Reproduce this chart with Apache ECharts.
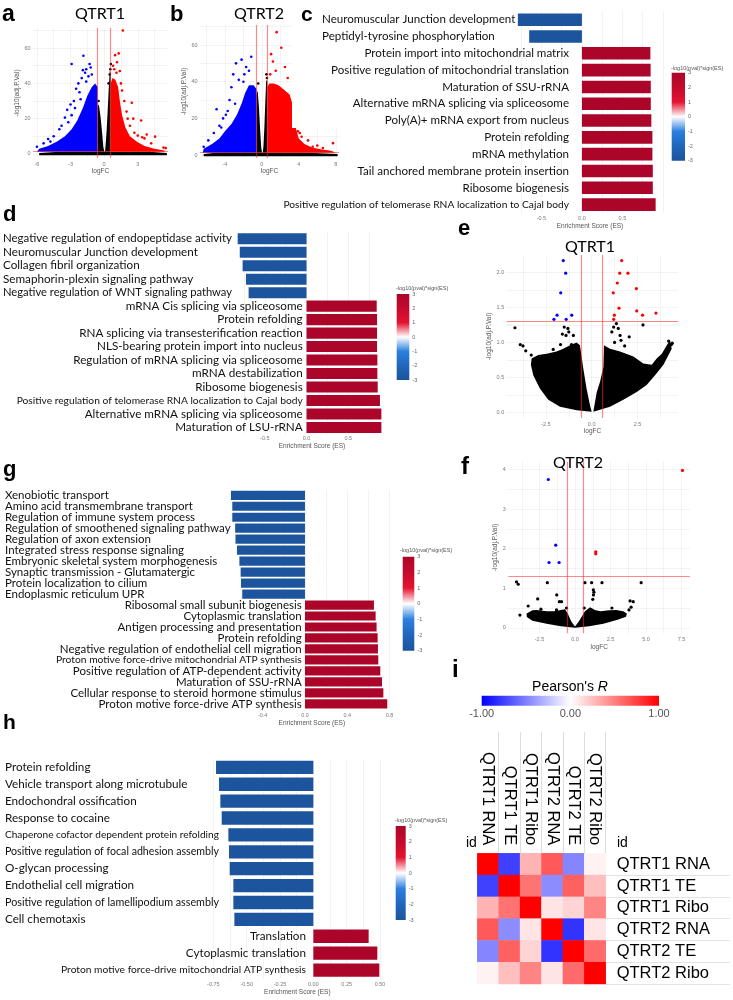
<!DOCTYPE html>
<html><head><meta charset="utf-8">
<script src="https://cdn.jsdelivr.net/npm/echarts@6/dist/echarts.min.js"></script>
<style>html,body{margin:0;padding:0;background:#fff}#c{width:733px;height:1000px}</style>
</head><body><div id="c"></div>
<script>
// ================= DATA =================
// Panel c – GSEA (QTRT1)
const cTerms = ["Neuromuscular Junction development","Peptidyl-tyrosine phosphorylation","Protein import into mitochondrial matrix","Positive regulation of mitochondrial translation","Maturation of SSU-rRNA","Alternative mRNA splicing via spliceosome","Poly(A)+ mRNA export from nucleus","Protein refolding","mRNA methylation","Tail anchored membrane protein insertion","Ribosome biogenesis","Positive regulation of telomerase RNA localization to Cajal body"];
const cES = [-0.79,-0.65,0.845,0.848,0.85,0.85,0.857,0.87,0.87,0.875,0.875,0.91];
const cScore = [-3,-3,3,3,3,3,3,3,3,3,3,3];
// Panel d
const dTerms = ["Negative regulation of endopeptidase activity","Neuromuscular Junction development","Collagen fibril organization","Semaphorin-plexin signaling pathway","Negative regulation of WNT signaling pathway","mRNA Cis splicing via spliceosome","Protein refolding","RNA splicing via transesterification reaction","NLS-bearing protein import into nucleus","Regulation of mRNA splicing via spliceosome","mRNA destabilization","Ribosome biogenesis","Positive regulation of telomerase RNA localization to Cajal body","Alternative mRNA splicing via spliceosome","Maturation of LSU-rRNA"];
const dES = [-0.825,-0.80,-0.766,-0.726,-0.694,0.841,0.845,0.845,0.845,0.849,0.849,0.853,0.88,0.897,0.897];
const dScore = [-3,-3,-3,-3,-3,3,3,3,3,3,3,3,3,3,3];
// Panel g
const gTerms = ["Xenobiotic transport","Amino acid transmembrane transport","Regulation of immune system process","Regulation of smoothened signaling pathway","Regulation of axon extension","Integrated stress response signaling","Embryonic skeletal system morphogenesis","Synaptic transmission - Glutamatergic","Protein localization to cilium","Endoplasmic reticulum UPR","Ribosomal small subunit biogenesis","Cytoplasmic translation","Antigen processing and presentation","Protein refolding","Negative regulation of endothelial cell migration","Proton motive force-drive mitochondrial ATP synthesis","Positive regulation of ATP-dependent activity","Maturation of SSU-rRNA","Cellular response to steroid hormone stimulus","Proton motive force-drive ATP synthesis"];
const gES = [-0.70,-0.687,-0.687,-0.66,-0.657,-0.643,-0.62,-0.608,-0.605,-0.593,0.652,0.668,0.677,0.687,0.69,0.693,0.712,0.728,0.741,0.778];
const gScore = [-3,-3,-3,-3,-3,-3,-3,-3,-3,-3,3,3,3,3,3,3,3,3,3,3];
// Panel h
const hTerms = ["Protein refolding","Vehicle transport along microtubule","Endochondral ossification","Response to cocaine","Chaperone cofactor dependent protein refolding","Positive regulation of focal adhesion assembly","O-glycan processing","Endothelial cell migration","Positive regulation of lamellipodium assembly","Cell chemotaxis","Translation","Cytoplasmic translation","Proton motive force-drive mitochondrial ATP synthesis"];
const hES = [-0.73,-0.7075,-0.6975,-0.6875,-0.6375,-0.6325,-0.6275,-0.60,-0.60,-0.5925,0.415,0.48,0.495];
const hScore = [-3,-3,-3,-3,-3,-3,-3,-3,-3,-3,3,3,3];
const cbTicksES = [-3,-2,-1,0,1,2,3];

// Thresholds used in volcano plots
const FC_CUT = 0.585, P_CUT = 1.301;

// Panel a – volcano QTRT1 (dense clouds as outlines, sparse points listed)
const aBand = [[-5.8,-0.8],[5.6,-0.8],[5.6,0.6],[4,1.3],[-4,1.3],[-5.8,0.6]];
const aBlackL = [[-0.585,1.3],[-0.585,27],[-0.47,28],[-0.32,21],[-0.18,12],[-0.07,4],[0.02,1.3]];
const aBlackR = [[0.08,1.3],[0.585,1.3],[0.585,46],[0.5,47],[0.42,38],[0.32,25],[0.22,13],[0.13,5]];
const aBlueCloud = [[-0.585,1.3],[-0.585,38],[-0.8,40],[-1.1,38],[-1.5,33],[-1.9,26],[-2.4,19],[-2.9,14],[-3.5,10],[-4.2,7],[-5,4.5],[-5.8,3],[-6.0,1.3]];
const aRedCloud = [[0.585,1.3],[0.585,40],[0.75,43],[1.0,42],[1.25,38],[1.4,30],[1.6,22],[1.9,15],[2.3,10],[2.9,7],[3.6,4.5],[4.5,3],[5.4,2],[5.4,1.3]];
const aBluePts = [[-1.85,55.7],[-2.9,51],[-1.3,51],[-1.7,46],[-2.0,43],[-3.0,28],[-3.5,20.6],[-5.0,8.5],[-6.0,4.1],[-5.4,6],[-2.5,37],[-2.2,35],[-1.6,48],[-1.1,45],[-2.3,40],[-3.3,25],[-4.0,14],[-4.5,10],[-2.7,30],[-1.4,44],[-1.9,47.5],[-1.2,49],[-2.1,31],[-1.6,41],[-2.9,22],[-3.8,16],[-4.8,7],[-3.2,18],[-2.6,26]];
const aRedPts = [[1.67,70],[1.3,57],[0.98,56],[1.15,52],[0.9,48],[1.4,47],[2.47,29],[3.3,19],[3.8,11],[4.55,9.8],[2.3,16],[3.0,10.4],[3.4,9.5],[3.6,8.8],[5.3,3.6],[5.5,3.3],[2.0,24],[1.8,30],[2.6,20],[4.2,6],[1.1,46],[0.8,50],[1.6,36],[2.1,20],[2.7,12],[1.5,40]];
const aBlackPts = [[0.6,51],[0.5,45],[-0.5,30],[0.4,40],[0.55,48]];

// Panel b – volcano QTRT2
const bBand = [[-6.3,-0.6],[8.2,-0.6],[8.2,0.6],[5,1.3],[-5,1.3],[-6.3,0.6]];
const bBlackL = [[-0.585,1.3],[-0.585,33],[-0.45,35],[-0.32,26],[-0.18,13],[-0.07,4],[0.02,1.3]];
const bBlackR = [[0.1,1.3],[0.585,1.3],[0.585,40],[0.47,41],[0.38,30],[0.27,15],[0.17,5]];
const bBlueCloud = [[-0.585,1.3],[-0.585,36],[-0.9,38],[-1.4,38],[-1.8,34],[-2.2,28],[-2.7,22],[-3.3,17],[-4.0,13],[-4.6,9],[-5.4,6],[-6.3,3.5],[-6.4,1.3]];
const bRedCloud = [[0.585,1.3],[0.585,37],[0.8,39],[1.3,39],[1.8,38],[2.3,36],[3.0,33],[3.3,28],[3.6,16],[4.0,9],[4.6,6],[5.5,4],[6.5,3],[7.5,2.3],[8.0,1.3]];
const bBluePts = [[-1.15,53.6],[-2.2,52],[-2.8,50],[-3.1,44],[-4.9,25],[-3.9,22],[-6.3,4.5],[-1.7,48],[-1.4,46],[-2.5,41],[-3.5,30],[-4.2,20],[-5.2,12],[-4.6,16],[-1.9,44],[-3.3,37],[-2.0,40],[-5.8,8],[-2.9,28],[-3.7,24],[-4.4,15]];
const bRedPts = [[1.6,67],[2.1,58.5],[1.2,51],[1.5,46],[0.9,44],[2.5,48],[1.0,55],[2.8,42],[6.6,3.8],[7.7,6.5],[4.3,10],[5.0,8],[5.5,4.5],[4.1,12],[6.0,5.2],[3.9,13]];
const bBlackPts = [[0.55,42],[-0.4,39],[0.5,44]];

// Panel e – volcano QTRT1 (second dataset)
const eBlackL = [[0,0.01],[-0.82,0.03],[-1.73,0.08],[-2.37,0.18],[-2.83,0.34],[-3.19,0.53],[-3.32,0.68],[-3.28,0.77],[-2.92,0.82],[-2.46,0.84],[-1.92,0.87],[-1.55,0.91],[-1.18,0.96],[-0.82,1.0],[-0.64,0.96],[-0.46,0.63],[-0.28,0.34],[-0.09,0.1]];
const eBlackR = [[0.09,0.01],[0.27,0.28],[0.46,0.44],[0.64,0.65],[0.67,0.96],[1.0,0.91],[1.55,0.87],[2.28,0.80],[2.82,0.70],[3.28,0.68],[3.55,0.77],[3.83,0.84],[4.1,0.96],[4.28,1.03],[4.37,0.91],[3.92,0.68],[3.46,0.53],[3.0,0.39],[2.46,0.29],[1.73,0.18],[1.0,0.08]];
const eBlackPts = [[-4.19,1.21],[-3.9,0.97],[-3.75,0.95],[-3.6,0.88],[-1.5,1.22],[-1.3,1.2],[-1.25,1.15],[-1.0,1.1],[-1.4,1.1],[-1.6,1.12],[-1.1,0.97],[-1.7,0.97],[1.2,1.22],[1.35,1.27],[1.45,1.2],[1.55,1.1],[2.05,1.08],[2.8,1.25],[1.25,1.0],[4.2,1.02],[4.35,0.97],[4.4,0.99],[1.1,1.15],[1.6,1.03],[-2.1,0.9],[-3.3,0.82],[1.8,0.95]];
const eBluePts = [[-1.55,2.17],[-1.42,1.99],[-1.69,1.71],[-1.89,1.39],[-2.06,1.33],[-1.39,1.33],[-1.09,1.39]];
const eRedPts = [[1.64,2.17],[1.53,1.99],[1.98,1.99],[1.40,1.85],[2.44,1.77],[1.18,1.71],[1.49,1.49],[2.46,1.45],[1.24,1.39],[2.78,1.39],[3.51,1.42],[1.2,1.33]];

// Panel f – volcano QTRT2 (second dataset)
const fBlack = [[-3.41,0.36],[-3.0,0.44],[-2.7,0.45],[-2.0,0.42],[-1.5,0.42],[-1.0,0.45],[-0.7,0.47],[-0.5,0.35],[-0.25,0.15],[0,0.03],[0.25,0.15],[0.5,0.3],[0.7,0.42],[1.06,0.52],[1.4,0.45],[1.8,0.42],[2.4,0.44],[2.9,0.45],[3.4,0.42],[3.65,0.36],[3.6,0.28],[3.0,0.2],[2.0,0.1],[1.0,0.04],[0,0],[-1.0,0.04],[-2.0,0.1],[-3.0,0.18],[-3.4,0.27]];
const fBlackPts = [[-4.12,1.16],[-4.0,1.1],[-1.95,1.14],[0.7,1.14],[1.17,1.14],[1.9,1.14],[4.66,1.14],[-1.29,0.83],[-1.1,0.66],[-0.95,0.66],[-2.63,0.73],[-3.88,0.32],[-3.3,0.55],[-2.4,0.47],[4.1,0.66],[3.88,0.68],[3.95,0.52],[3.8,0.45],[1.29,0.96],[1.33,0.9],[1.3,0.83],[1.25,0.72],[-1.3,0.45],[2.6,0.5],[-0.6,0.5],[0.65,0.5]];
const fBluePts = [[-1.88,3.75],[-1.36,2.09],[-1.83,1.65],[-1.12,1.65]];
const fRedPts = [[7.57,3.98],[1.46,1.92],[1.46,1.87]];

// Panel i – Pearson correlation heatmap
const hmIds = ["QTRT1 RNA","QTRT1 TE","QTRT1 Ribo","QTRT2 RNA","QTRT2 TE","QTRT2 Ribo"];
const hmR = [
  [1.00,-0.75,0.30,0.65,-0.48,0.05],
  [-0.75,1.00,0.55,-0.45,0.62,0.25],
  [0.30,0.55,1.00,0.10,0.17,0.48],
  [0.65,-0.45,0.10,1.00,-0.80,0.10],
  [-0.48,0.62,0.17,-0.80,1.00,0.58],
  [0.05,0.25,0.48,0.10,0.58,1.00]
];
const pearsonTicks = [-1,0,1];

// ================= BUILD =================
const SANS = 'Lato';
const ARIAL = '"Liberation Sans", Arial, sans-serif';
const BAR_COLORS = ['#1c549d','#2066bb','#2b80e0','#ffffff','#e4132f','#c40a2d','#ab0629'];
const HM_COLORS = ['#0000ff','#ffffff','#ff0000'];
const opt = {animation:false, backgroundColor:'#ffffff', grid:[], xAxis:[], yAxis:[], series:[], visualMap:[], graphic:{elements:[]}};
const barSeriesIdx = [];
const mctx = document.createElement('canvas').getContext('2d');
function textW(t, size){ mctx.font = size + 'px ' + SANS; return mctx.measureText(t).width; }

function addCart(rect, xa, ya){
  const gi = opt.grid.length; opt.grid.push(Object.assign({containLabel:false}, rect));
  const xi = opt.xAxis.length; opt.xAxis.push(Object.assign({gridIndex:gi}, xa));
  const yi = opt.yAxis.length; opt.yAxis.push(Object.assign({gridIndex:gi}, ya));
  return {xAxisIndex:xi, yAxisIndex:yi};
}
function txt(text, x, y, font, fill){
  opt.graphic.elements.push({type:'text', z:50, silent:true,
    style:{text, x, y, font, fill:fill||'#000', textAlign:'left', textVerticalAlign:'middle'}});
}
function gradRect(ax, p0, p1, stops, vertical){
  return Object.assign({type:'custom', silent:true, data:[[0,0]],
    renderItem:(params, api)=>{
      const a = api.coord(p0), b = api.coord(p1);
      return {type:'rect', shape:{x:Math.min(a[0],b[0]), y:Math.min(a[1],b[1]), width:Math.abs(b[0]-a[0]), height:Math.abs(b[1]-a[1])},
        style:{fill: new echarts.graphic.LinearGradient(0,0,vertical?0:1,vertical?1:0, stops)}};
    }}, ax);
}

function barPanel(P){
  const ax = addCart({left:P.left, top:P.top, width:P.right-P.left, height:P.bottom-P.top},
    {type:'value', min:P.min, max:P.max, z:P.z||0,
     axisLine:{show:false}, axisTick:{show:false, customValues:P.ticks.concat(P.minor)},
     axisLabel:{customValues:P.ticks, formatter:v=>v.toFixed(P.dec), fontSize:5.5, color:'#7a7a7a', margin:P.tickMargin, fontFamily:ARIAL},
     splitLine:{show:true, lineStyle:{color:'#ededed', width:0.7}},
     name:'Enrichment Score (ES)', nameLocation:'middle', nameGap:P.nameGap, nameTextStyle:{fontSize:6.5, color:'#555', fontFamily:ARIAL}},
    {type:'category', inverse:true, data:P.terms, z:P.z||0,
     axisLine:{show:false}, axisTick:{show:false}, splitLine:{show:false}});
  const rich = {};
  P.terms.forEach((t,i)=>{
    const neg = P.es[i] < 0;
    const maxW = neg ? P.negMax : P.posMax;
    const fs = Math.min(P.font, P.font * maxW / textW(t, P.font));
    rich['t'+i] = neg ? {fontSize:fs, fontFamily:SANS, color:'#111', width:P.labelRight-P.negLeft, align:'left'}
                      : {fontSize:fs, fontFamily:SANS, color:'#111', align:'right'};
  });
  opt.yAxis[ax.yAxisIndex].axisLabel = {interval:0, margin:P.left-P.labelRight, formatter:(v,i)=>'{t'+i+'|'+v+'}', rich};
  barSeriesIdx.push(opt.series.length);
  opt.series.push(Object.assign({type:'bar', silent:true, z:(P.z||2),
    data:P.terms.map((t,i)=>[P.es[i], t, P.score[i]]), encode:{x:0, y:1}, barCategoryGap:P.gap}, ax));
  // colour bar
  const C = P.cb;
  const cax = addCart({left:C.x, top:C.y, width:C.w, height:C.h},
    {type:'value', min:0, max:1, show:false},
    {type:'value', min:cbTicksES[0], max:cbTicksES[cbTicksES.length-1], interval:1, position:'right',
     axisLine:{show:false}, axisTick:{show:false}, splitLine:{show:false},
     axisLabel:{fontSize:5.5, color:'#666', margin:3, fontFamily:ARIAL}});
  const stops = BAR_COLORS.slice().reverse().map((c,k,arr)=>({offset:k/(arr.length-1), color:c}));
  opt.series.push(gradRect(cax, [0,3], [1,-3], stops, true));
  txt('-log10(pval)*sign(ES)', C.tx, C.ty, '5.5px ' + ARIAL, '#555');
}

function poly(ax, pts, color){
  return Object.assign({type:'custom', silent:true, clip:true, data:[[pts[0][0], pts[0][1]]],
    renderItem:(params, api)=>({type:'polygon', shape:{points:pts.map(p=>api.coord(p))}, style:{fill:color}})}, ax);
}
function scat(ax, pts, color, size){
  return Object.assign({type:'scatter', silent:true, data:pts, symbolSize:size, itemStyle:{color, opacity:1}}, ax);
}
function volcano(V){
  const ax = addCart({left:V.left, top:V.top, width:V.w, height:V.h},
    {type:'value', min:V.xr[0], max:V.xr[1],
     axisLine:{show:false}, axisTick:{show:false, customValues:V.xt.concat(V.xm)},
     axisLabel:{customValues:V.xt, formatter:V.xf, fontSize:5.5, color:'#7a7a7a', margin:3, fontFamily:ARIAL},
     splitLine:{show:true, lineStyle:{color:'#ebebeb', width:0.6}},
     name:'logFC', nameLocation:'middle', nameGap:V.xg, nameTextStyle:{fontSize:6.5, color:'#555', fontFamily:ARIAL}},
    {type:'value', min:V.yr[0], max:V.yr[1],
     axisLine:{show:false}, axisTick:{show:false, customValues:V.yt.concat(V.ym)},
     axisLabel:{customValues:V.yt, formatter:V.yf, fontSize:5.5, color:'#7a7a7a', margin:2.5, fontFamily:ARIAL},
     splitLine:{show:true, lineStyle:{color:'#ebebeb', width:0.6}},
     name:'-log10(adj.P.Val)', nameLocation:'middle', nameRotate:90, nameGap:V.yg, nameTextStyle:{fontSize:6.5, color:'#555', fontFamily:ARIAL}});
  V.polys.forEach(([p,c])=>opt.series.push(poly(ax, p, c)));
  V.pts.forEach(([p,c])=>opt.series.push(scat(ax, p, c, V.ps)));
  opt.series[opt.series.length-1].markLine = {silent:true, symbol:'none', label:{show:false}, z:10,
    lineStyle:{color:'rgba(255,40,40,0.55)', width:1.2, type:'solid'},
    data:[{xAxis:-FC_CUT},{xAxis:FC_CUT},{yAxis:P_CUT}]};
}

const f0 = v=>String(v), f1 = v=>v.toFixed(1);
volcano({left:33, top:28, w:135, h:130, xr:[-6.35,5.7], yr:[-2.3,71.4], xt:[-6,-3,0,3], xm:[-4.5,-1.5,1.5,4.5], yt:[0,20,40,60], ym:[10,30,50,70], xf:f0, yf:f0, xg:10, yg:9, ps:2.6,
  polys:[[aBand,'#000'],[aBlackL,'#000'],[aBlackR,'#000'],[aBlueCloud,'#0000ff'],[aRedCloud,'#ff0000']],
  pts:[[aBluePts,'#0000ff'],[aRedPts,'#ff0000'],[aBlackPts,'#000']]});
volcano({left:200, top:25, w:139, h:133, xr:[-6.7,8.35], yr:[-1.6,70.9], xt:[-4,0,4,8], xm:[-6,-2,2,6], yt:[0,20,40,60], ym:[10,30,50,70], xf:f0, yf:f0, xg:10, yg:10, ps:2.6,
  polys:[[bBand,'#000'],[bBlackL,'#000'],[bBlackR,'#000'],[bBlueCloud,'#0000ff'],[bRedCloud,'#ff0000']],
  pts:[[bBluePts,'#0000ff'],[bRedPts,'#ff0000'],[bBlackPts,'#000']]});
volcano({left:506.7, top:255, w:171.6, h:163, xr:[-4.64,4.73], yr:[-0.08,2.25], xt:[-2.5,0,2.5], xm:[-3.75,-1.25,1.25,3.75], yt:[0,0.5,1,1.5,2], ym:[0.25,0.75,1.25,1.75], xf:f1, yf:f1, xg:10, yg:12, ps:3.2,
  polys:[[eBlackL,'#000'],[eBlackR,'#000']],
  pts:[[eBlackPts,'#000'],[eBluePts,'#0000ff'],[eRedPts,'#ff0000']]});
volcano({left:508.3, top:461.7, w:181.7, h:171.6, xr:[-4.7,8.1], yr:[-0.14,4.2], xt:[-2.5,0,2.5,5,7.5], xm:[-3.75,-1.25,1.25,3.75,6.25], yt:[0,1,2,3,4], ym:[0.5,1.5,2.5,3.5], xf:f1, yf:f0, xg:10, yg:9, ps:3.2,
  polys:[[fBlack,'#000']],
  pts:[[fBlackPts,'#000'],[fBluePts,'#0000ff'],[fRedPts,'#ff0000']]});

// white backdrop of panel c covering the right part of panel b
opt.graphic.elements.push({type:'rect', z:4, silent:true, shape:{x:292, y:0, width:60, height:128}, style:{fill:'#ffffff'}});

barPanel({terms:cTerms, es:cES, score:cScore, left:513, right:667, top:11.3, bottom:213, min:-0.85, max:1.05, ticks:[-0.5,0,0.5], minor:[-0.75,-0.25,0.25,0.75,1.0], dec:1,
  labelRight:569, negLeft:322, font:11.6, posMax:286, negMax:250, gap:'25%', tickMargin:2, nameGap:10, z:10,
  cb:{x:671.7, y:72.7, w:13.3, h:88, tx:671, ty:68}});
barPanel({terms:dTerms, es:dES, score:dScore, left:234.6, right:388.3, top:232, bottom:434.2, min:-0.85, max:0.98, ticks:[-0.5,0,0.5], minor:[-0.75,-0.25,0.25,0.75], dec:1,
  labelRight:301.7, negLeft:2, font:11.7, posMax:286, negMax:229, gap:'18%', tickMargin:1.5, nameGap:8,
  cb:{x:396.7, y:294, w:12.6, h:86, tx:396, ty:288.3}});
barPanel({terms:gTerms, es:gES, score:gScore, left:228.8, right:394.9, top:489.8, bottom:709.3, min:-0.72, max:0.85, ticks:[-0.4,0,0.4,0.8], minor:[-0.6,-0.2,0.2,0.6], dec:1,
  labelRight:301.7, negLeft:5, font:11.5, posMax:246, negMax:296, gap:'16%', tickMargin:3, nameGap:10.5,
  cb:{x:402.7, y:556.7, w:11.6, h:94, tx:400, ty:550}});
barPanel({terms:hTerms, es:hES, score:hScore, left:206.7, right:388, top:758.9, bottom:978.5, min:-0.8, max:0.56, ticks:[-0.75,-0.5,-0.25,0,0.25,0.5], minor:[-0.625,-0.375,-0.125,0.125,0.375], dec:2,
  labelRight:306, negLeft:5, font:11.7, posMax:245, negMax:214, gap:'21%', tickMargin:2.5, nameGap:10.5,
  cb:{x:395.7, y:826, w:10, h:94, tx:395, ty:820}});

opt.visualMap.push({type:'continuous', show:false, min:-3, max:3, dimension:2, seriesIndex:barSeriesIdx.slice(), inRange:{color:BAR_COLORS}});

// heatmap i
const hax = addCart({left:477.3, top:853.3, width:128.4, height:130.7},
  {type:'category', data:hmIds, position:'top', axisLine:{show:false},
   axisTick:{show:true, length:121, interval:(i)=>i!==0, lineStyle:{color:'#dddddd', width:1}},
   axisLabel:{interval:0, rotate:90, fontSize:16.5, color:'#000', fontFamily:ARIAL, margin:8},
   splitLine:{show:false}},
  {type:'category', data:hmIds, inverse:true, position:'right', axisLine:{show:false},
   axisTick:{show:true, length:124, interval:(i)=>i!==0, lineStyle:{color:'#e3e3e3', width:1}},
   axisLabel:{interval:0, fontSize:16.5, color:'#000', fontFamily:ARIAL, margin:11},
   splitLine:{show:false}});
const hmData = [];
hmR.forEach((row,r)=>row.forEach((v,c)=>hmData.push([c, r, v])));
const hmIdx = opt.series.length;
opt.series.push(Object.assign({type:'heatmap', silent:true, data:hmData}, hax));
opt.visualMap.push({type:'continuous', show:false, min:-1, max:1, dimension:2, seriesIndex:[hmIdx], inRange:{color:HM_COLORS}});
// Pearson colour bar
const pax = addCart({left:481.7, top:695.7, width:177.3, height:10},
  {type:'value', min:pearsonTicks[0], max:pearsonTicks[2], interval:1, axisLine:{show:false}, axisTick:{show:false}, splitLine:{show:false},
   axisLabel:{formatter:v=>v.toFixed(2), fontSize:11, color:'#555', margin:3, fontFamily:ARIAL}},
  {type:'value', min:0, max:1, show:false});
opt.series.push(gradRect(pax, [-1,1], [1,0], HM_COLORS.map((c,k)=>({offset:k/2, color:c})), false));

// texts
const L = (t,x,y,s)=>txt(t, x, y, 'bold '+s+'px '+ARIAL);
L('a',2,15,23); L('b',170,15,22); L('c',301,15,21); L('d',3,215,22); L('e',458,229,22);
L('f',461,467,24); L('g',3,470,22); L('h',3,723,21); L('i',452,670,24);
const T = (t,x,y)=>opt.graphic.elements.push({type:'text', z:50, silent:true, style:{text:t, x, y, font:'16px '+SANS, fill:'#000', textAlign:'center', textVerticalAlign:'middle'}});
T('QTRT1',100,14); T('QTRT2',259,14); T('QTRT1',590,247); T('QTRT2',578,463);
opt.graphic.elements.push({type:'text', z:50, silent:true, style:{text:"{a|Pearson's }{b|R}", x:570, y:687, textAlign:'center', textVerticalAlign:'middle',
  rich:{a:{fontSize:14, fontFamily:ARIAL, color:'#000'}, b:{fontSize:14, fontFamily:ARIAL, fontStyle:'italic', color:'#000'}}}});
txt('id', 466, 843, '14px '+ARIAL);
txt('id', 617, 843, '14px '+ARIAL);

const chart = echarts.init(document.getElementById('c'), null, {renderer:'canvas'});
chart.setOption(opt);
</script></body></html>
